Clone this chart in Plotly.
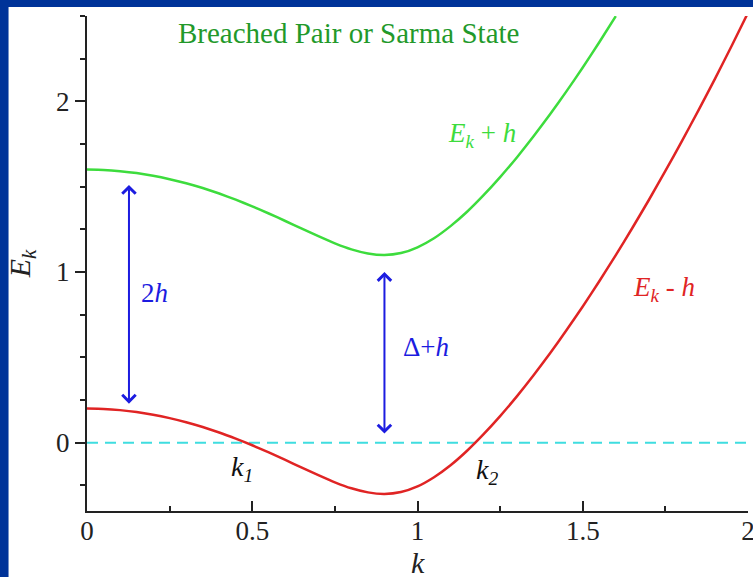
import plotly.graph_objects as go

# Quasiparticle branches sampled along k
k_vals = [0.0, 0.05, 0.1, 0.15, 0.2, 0.25, 0.3, 0.35, 0.4, 0.45, 0.5, 0.55, 0.6,
          0.65, 0.7, 0.75, 0.8, 0.85, 0.9, 0.95, 1.0, 1.05, 1.1, 1.15, 1.2, 1.25,
          1.3, 1.35, 1.4, 1.45, 1.5, 1.55, 1.6, 1.65, 1.7, 1.75, 1.8, 1.85, 1.9,
          1.95, 2.0]
e_plus_h = [1.600, 1.598, 1.591, 1.580, 1.564, 1.544, 1.520, 1.492, 1.460, 1.424,
            1.385, 1.343, 1.299, 1.254, 1.210, 1.168, 1.133, 1.109, 1.100, 1.111,
            1.145, 1.198, 1.269, 1.353, 1.450, 1.556, 1.670, 1.792, 1.921, 2.057,
            2.198, 2.346, 2.499]
e_minus_h = [0.200, 0.198, 0.191, 0.180, 0.164, 0.144, 0.120, 0.092, 0.060, 0.024,
             -0.015, -0.057, -0.101, -0.146, -0.190, -0.232, -0.267, -0.291, -0.300,
             -0.289, -0.256, -0.202, -0.132, -0.047, 0.050, 0.156, 0.270, 0.392,
             0.521, 0.657, 0.798, 0.946, 1.099, 1.258, 1.422, 1.592, 1.767, 1.947,
             2.132, 2.323, 2.519]

# Gap arrows: x position, lower end, upper end
gap_2h = [0.127, 0.22, 1.51]
gap_delta_h = [0.90, 0.045, 1.00]

x_ticks = [0, 0.5, 1, 1.5, 2]
x_tick_text = ["0", "0.5", "1", "1.5", "2"]
y_ticks = [0, 1, 2]
y_tick_text = ["0", "1", "2"]

FONT = "Liberation Serif, Times New Roman, serif"
GREEN = "#3ddc3d"
RED = "#e02424"
BLUE = "#1c1ce0"
CYAN = "#3fdde0"
AXIS = "#222222"

fig = go.Figure()

fig.add_trace(go.Scatter(
    x=[k_vals[0], k_vals[-1]], y=[0, 0], mode="lines",
    line=dict(color=CYAN, width=2, dash="11px,7px"), hoverinfo="skip"))
fig.add_trace(go.Scatter(
    x=k_vals[:len(e_plus_h)], y=e_plus_h, mode="lines",
    line=dict(color=GREEN, width=2.5, shape="spline", smoothing=0.5)))
fig.add_trace(go.Scatter(
    x=k_vals, y=e_minus_h, mode="lines",
    line=dict(color=RED, width=2.5, shape="spline", smoothing=0.5)))

for xa, lo, hi in (gap_2h, gap_delta_h):
    fig.add_annotation(
        x=xa, y=hi, ax=xa, ay=lo, xref="x", yref="y", axref="x", ayref="y",
        text="", showarrow=True, arrowhead=4, startarrowhead=4,
        arrowside="end+start", arrowsize=1.3, startarrowsize=1.3,
        arrowwidth=2, arrowcolor=BLUE, standoff=0, startstandoff=0)

labels = [
    (0.79, 2.40, "Breached Pair or Sarma State", "#22992a", 29),
    (1.195, 1.80, "<i>E<sub>k</sub></i> + <i>h</i>", GREEN, 27),
    (1.745, 0.90, "<i>E<sub>k</sub></i> - <i>h</i>", RED, 27),
    (0.204, 0.88, "2<i>h</i>", BLUE, 27),
    (1.026, 0.56, "Δ+<i>h</i>", BLUE, 27),
    (0.468, -0.15, "<i>k<sub>1</sub></i>", "#111111", 28),
    (1.209, -0.17, "<i>k<sub>2</sub></i>", "#111111", 28),
]
for lx, ly, txt, col, size in labels:
    fig.add_annotation(x=lx, y=ly, xref="x", yref="y", text=txt, showarrow=False,
                       font=dict(family=FONT, size=size, color=col))

# x-axis title placed below the tick labels
fig.add_annotation(x=0.5, y=-0.104, xref="paper", yref="paper", text="<i>k</i>",
                   showarrow=False, yanchor="middle",
                   font=dict(family=FONT, size=30, color=AXIS))

# Dark blue frame strips along the left and top edges
fig.add_shape(type="rect", xref="paper", yref="paper", x0=-0.2, x1=-0.1187,
              y0=-0.2, y1=1.2, fillcolor="#003399", line_width=0, layer="above")
fig.add_shape(type="rect", xref="paper", yref="paper", x0=-0.2, x1=1.1,
              y0=1.0182, y1=1.2, fillcolor="#003399", line_width=0, layer="above")

fig.update_layout(
    width=753, height=577,
    margin=dict(l=86.5, r=5, t=16, b=66, autoexpand=False),
    paper_bgcolor="white", plot_bgcolor="white",
    showlegend=False,
    font=dict(family=FONT, size=27, color=AXIS),
    xaxis=dict(range=[0, 2], tickvals=x_ticks, ticktext=x_tick_text,
               ticks="inside", ticklen=10, tickwidth=2, tickcolor=AXIS,
               minor=dict(dtick=0.25, tick0=0, ticks="inside", ticklen=5,
                          tickwidth=2, tickcolor=AXIS),
               showline=True, linecolor=AXIS, linewidth=2, automargin=False,
               showgrid=False, zeroline=False, ticklabelstandoff=-5,
               ticklabeloverflow="allow"),
    yaxis=dict(range=[-0.4, 2.5], tickvals=y_ticks, ticktext=y_tick_text,
               ticks="outside", ticklen=10, tickwidth=2, tickcolor=AXIS,
               minor=dict(dtick=0.25, tick0=0, ticks="outside", ticklen=5,
                          tickwidth=2, tickcolor=AXIS),
               showline=True, linecolor=AXIS, linewidth=2, automargin=False,
               showgrid=False, zeroline=False,
               title=dict(text="<i>E<sub>k</sub></i>", font=dict(size=30), standoff=17)),
)

fig.write_html("out.html")
